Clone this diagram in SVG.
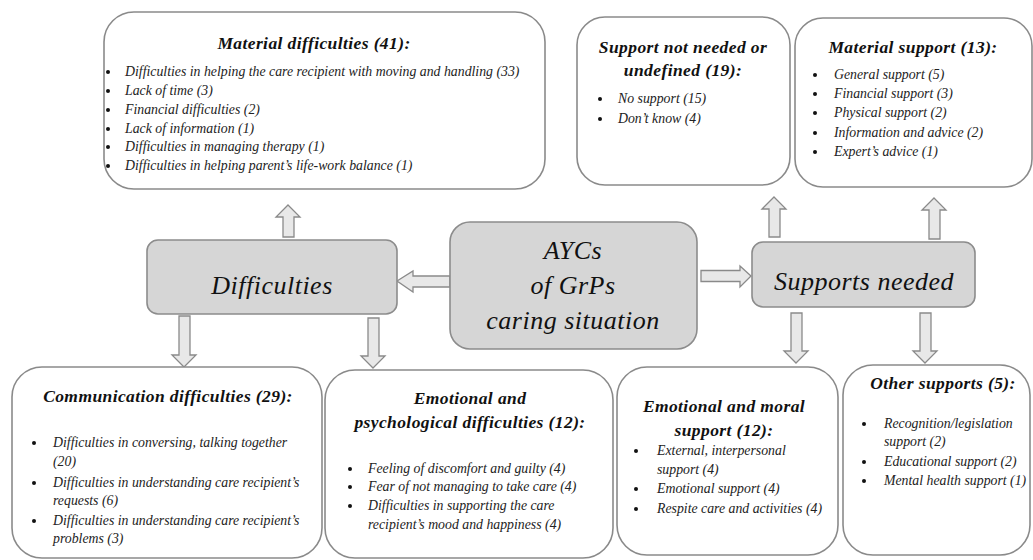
<svg xmlns="http://www.w3.org/2000/svg" width="1033" height="560" viewBox="0 0 1033 560">
<style>
.wbox{fill:#ffffff;stroke:#8a8a8a;stroke-width:1.6}
.gbox{fill:#d6d6d6;stroke:#8c8c8c;stroke-width:1.6}
.arr{fill:#e8e8e8;stroke:#8a8a8a;stroke-width:1.3;stroke-linejoin:miter}
text{font-family:"Liberation Serif","Times New Roman",serif;font-style:italic;fill:#111}
.title{font-size:17.5px;font-weight:bold;text-anchor:middle;letter-spacing:0.4px}
.item{font-size:13.8px;fill:#222}
.big{font-size:26px;text-anchor:middle;fill:#111;letter-spacing:0.5px}
.bul{fill:#111}
</style>
<defs>
<circle id="b" r="2" class="bul"/>
</defs>
<rect width="1033" height="560" fill="#ffffff"/>

<g id="connectors">
<path class="arr" d="M288,205 L300,217 L294,217 L294,237 L283,237 L283,217 L276,217 Z"/>
<path class="arr" d="M774,197 L786,209 L780,209 L780,237 L769,237 L769,209 L762,209 Z"/>
<path class="arr" d="M934,198 L946,210 L940,210 L940,239 L929,239 L929,210 L922,210 Z"/>
<path class="arr" d="M184,367 L196,355 L190,355 L190,316 L179,316 L179,355 L172,355 Z"/>
<path class="arr" d="M373,368 L385,356 L379,356 L379,318 L368,318 L368,356 L361,356 Z"/>
<path class="arr" d="M796,363 L808,351 L802,351 L802,313 L791,313 L791,351 L784,351 Z"/>
<path class="arr" d="M925,363 L937,351 L931,351 L931,313 L920,313 L920,351 L913,351 Z"/>
<path class="arr" d="M397,281 L413,271 L413,276 L450,276 L450,287 L413,287 L413,292 Z"/>
<path class="arr" d="M751,276 L740,266 L740,270.5 L701,270.5 L701,281.5 L740,281.5 L740,287 Z"/>
</g>

<g id="material-difficulties">
<rect class="wbox" x="104" y="12" width="441" height="177" rx="30"/>
<text class="title" x="314" y="49">Material difficulties (41):</text>
<use href="#b" x="108" y="72"/><text class="item" x="125" y="76">Difficulties in helping the care recipient with moving and handling (33)</text>
<use href="#b" x="108" y="91"/><text class="item" x="125" y="95">Lack of time (3)</text>
<use href="#b" x="108" y="110"/><text class="item" x="125" y="114">Financial difficulties (2)</text>
<use href="#b" x="108" y="129"/><text class="item" x="125" y="133">Lack of information (1)</text>
<use href="#b" x="108" y="147"/><text class="item" x="125" y="151">Difficulties in managing therapy (1)</text>
<use href="#b" x="108" y="166"/><text class="item" x="125" y="170">Difficulties in helping parent’s life-work balance (1)</text>
</g>

<g id="support-not-needed">
<rect class="wbox" x="577" y="17" width="213" height="168" rx="28"/>
<text class="title" x="683" y="53">Support not needed or</text>
<text class="title" x="683" y="76">undefined (19):</text>
<use href="#b" x="600" y="99"/><text class="item" x="618" y="103">No support (15)</text>
<use href="#b" x="600" y="119"/><text class="item" x="618" y="123">Don’t know (4)</text>
</g>

<g id="material-support">
<rect class="wbox" x="795" y="18" width="237" height="169" rx="28"/>
<text class="title" x="913" y="53">Material support (13):</text>
<use href="#b" x="815" y="75"/><text class="item" x="834" y="79">General support (5)</text>
<use href="#b" x="815" y="94"/><text class="item" x="834" y="98">Financial support (3)</text>
<use href="#b" x="815" y="113"/><text class="item" x="834" y="117">Physical support (2)</text>
<use href="#b" x="815" y="133"/><text class="item" x="834" y="137">Information and advice (2)</text>
<use href="#b" x="815" y="152"/><text class="item" x="834" y="156">Expert’s advice (1)</text>
</g>

<g id="difficulties">
<rect class="gbox" x="147" y="240" width="250" height="74" rx="11"/>
<text class="big" x="272" y="294">Difficulties</text>
</g>

<g id="aycs">
<rect class="gbox" x="450" y="222" width="247" height="127" rx="20"/>
<text class="big" x="573" y="259">AYCs</text>
<text class="big" x="573" y="294">of GrPs</text>
<text class="big" x="573" y="329">caring situation</text>
</g>

<g id="supports-needed">
<rect class="gbox" x="752" y="242" width="223" height="65" rx="11"/>
<text class="big" x="864" y="290">Supports needed</text>
</g>

<g id="communication-difficulties">
<rect class="wbox" x="12" y="367" width="310" height="191" rx="30"/>
<text class="title" x="168" y="402">Communication difficulties (29):</text>
<use href="#b" x="34" y="443"/><text class="item" x="53" y="447">Difficulties in conversing, talking together</text>
<text class="item" x="53" y="466">(20)</text>
<use href="#b" x="34" y="483"/><text class="item" x="53" y="487">Difficulties in understanding care recipient’s</text>
<text class="item" x="53" y="505">requests (6)</text>
<use href="#b" x="34" y="521"/><text class="item" x="53" y="525">Difficulties in understanding care recipient’s</text>
<text class="item" x="53" y="543">problems (3)</text>
</g>

<g id="emotional-psychological">
<rect class="wbox" x="325" y="370" width="288" height="188" rx="30"/>
<text class="title" x="470" y="404">Emotional and</text>
<text class="title" x="470" y="428">psychological difficulties (12):</text>
<use href="#b" x="350" y="469"/><text class="item" x="368" y="473">Feeling of discomfort and guilty (4)</text>
<use href="#b" x="350" y="487"/><text class="item" x="368" y="491">Fear of not managing to take care (4)</text>
<use href="#b" x="350" y="506"/><text class="item" x="368" y="510">Difficulties in supporting the care</text>
<text class="item" x="368" y="529">recipient’s mood and happiness (4)</text>
</g>

<g id="emotional-moral">
<rect class="wbox" x="617" y="367" width="221" height="188" rx="30"/>
<text class="title" x="724" y="412">Emotional and moral</text>
<text class="title" x="724" y="436">support (12):</text>
<use href="#b" x="636" y="451"/><text class="item" x="657" y="455">External, interpersonal</text>
<text class="item" x="657" y="474">support (4)</text>
<use href="#b" x="636" y="489"/><text class="item" x="657" y="493">Emotional support (4)</text>
<use href="#b" x="636" y="509"/><text class="item" x="657" y="513">Respite care and activities (4)</text>
</g>

<g id="other-supports">
<rect class="wbox" x="843" y="365" width="187" height="190" rx="30"/>
<text class="title" x="943" y="389">Other supports (5):</text>
<use href="#b" x="864" y="424"/><text class="item" x="884" y="428">Recognition/legislation</text>
<text class="item" x="884" y="446">support (2)</text>
<use href="#b" x="864" y="462"/><text class="item" x="884" y="466">Educational support (2)</text>
<use href="#b" x="864" y="481"/><text class="item" x="884" y="485">Mental health support (1)</text>
</g>
</svg>
